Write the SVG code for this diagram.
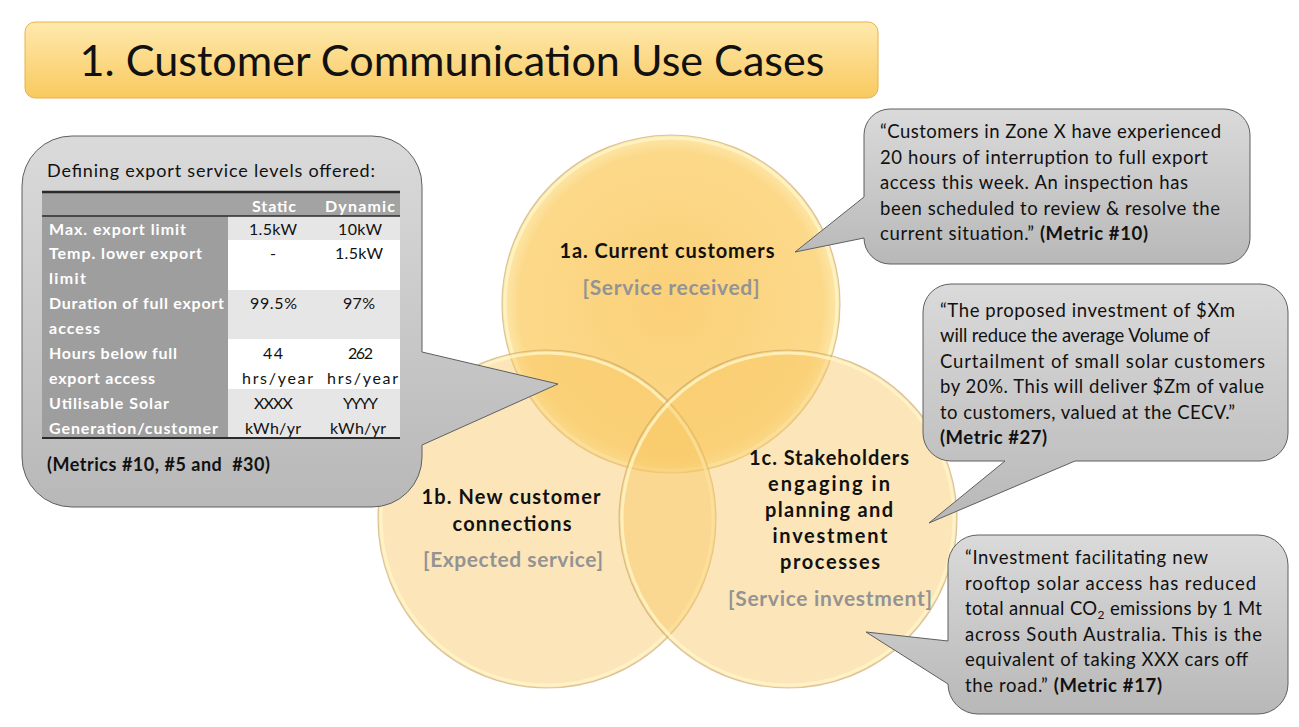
<svg xmlns="http://www.w3.org/2000/svg" width="1299" height="727" viewBox="0 0 1299 727">
<defs>
<linearGradient id="gTitle" x1="0" y1="0" x2="0" y2="1">
<stop offset="0" stop-color="#fee9ad"/><stop offset="1" stop-color="#f9c95f"/>
</linearGradient>
<linearGradient id="gCall" x1="0" y1="0" x2="0" y2="1">
<stop offset="0" stop-color="#dadada"/><stop offset="1" stop-color="#b8b8b8"/>
</linearGradient>
<radialGradient id="gA" cx="0.5" cy="0.5" r="0.5">
<stop offset="0" stop-color="#fbd078"/><stop offset="0.9" stop-color="#fcd98a"/><stop offset="1" stop-color="#fde8ac"/>
</radialGradient>
<style>
.t{font-family:Lato,"Open Sans",sans-serif;fill:#111}
.b{font-weight:bold}
.q{font-size:18.5px}
.tb{font-size:16px}
.th{font-size:16px;font-weight:bold;fill:#fff}
.lbl{font-size:20px;font-weight:bold;text-anchor:middle;fill:#111}
.sub{font-size:21px;font-weight:bold;text-anchor:middle;fill:#939393}
.call{fill:url(#gCall);stroke:#5f5f5f;stroke-width:1}
.rim{fill:none;stroke:#fff5c8;stroke-width:3;opacity:0.8}
.edge{fill:none;stroke:#c4a46a;stroke-width:1.2;opacity:0.6}
.c{text-anchor:middle}
</style>
</defs>
<rect width="1299" height="727" fill="#fff"/>

<g id="title">
<rect x="25" y="22" width="853" height="76" rx="10" fill="url(#gTitle)" stroke="#eab24a" stroke-width="1"/>
<text class="t" x="452" y="76" font-size="43" text-anchor="middle" textLength="745" lengthAdjust="spacingAndGlyphs">1. Customer Communication Use Cases</text>
</g>

<g id="venn">
<g id="circle-1a">
<circle cx="671" cy="304" r="169" fill="url(#gA)"/>
<circle cx="671" cy="304" r="166" class="rim"/>
<circle cx="671" cy="304" r="169" class="edge"/>
</g>
<g id="circle-1b">
<circle cx="547" cy="519" r="169" fill="#f8c864" fill-opacity="0.45"/>
<circle cx="547" cy="519" r="166" class="rim"/>
<circle cx="547" cy="519" r="169" class="edge"/>
</g>
<g id="circle-1c">
<circle cx="788" cy="519" r="169" fill="#f8c864" fill-opacity="0.45"/>
<circle cx="788" cy="519" r="166" class="rim"/>
<circle cx="788" cy="519" r="169" class="edge"/>
</g>
<g id="label-1a">
<text class="t lbl" x="667" y="258" textLength="215">1a. Current customers</text>
<text class="t sub" x="671" y="295" textLength="177">[Service received]</text>
</g>
<g id="label-1b">
<text class="t lbl" x="511" y="504" textLength="179">1b. New customer</text>
<text class="t lbl" x="512" y="531" textLength="119">connections</text>
<text class="t sub" x="513" y="567" textLength="180">[Expected service]</text>
</g>
<g id="label-1c">
<text class="t lbl" x="829" y="465" textLength="160">1c. Stakeholders</text>
<text class="t lbl" x="829" y="491" textLength="122">engaging in</text>
<text class="t lbl" x="829" y="517" textLength="128">planning and</text>
<text class="t lbl" x="830" y="543" textLength="115">investment</text>
<text class="t lbl" x="830" y="569" textLength="100">processes</text>
<text class="t sub" x="830" y="606" textLength="204">[Service investment]</text>
</g>
</g>

<g id="callout-table">
<path class="call" d="M72,136 H372 A50,50 0 0 1 422,186 V352 L558,384 L422,445 V457 A50,50 0 0 1 372,507 H72 A50,50 0 0 1 22,457 V186 A50,50 0 0 1 72,136 Z"/>
<text class="t" x="47" y="177" font-size="18" textLength="328">Defining export service levels offered:</text>
<rect x="42" y="192" width="358" height="24" fill="#a3a3a3"/>
<rect x="42" y="216" width="186" height="222" fill="#9e9e9e"/>
<rect x="228" y="216" width="172" height="24" fill="#e6e6e6"/>
<rect x="228" y="240" width="172" height="50" fill="#ffffff"/>
<rect x="228" y="290" width="172" height="49" fill="#e6e6e6"/>
<rect x="228" y="339" width="172" height="50" fill="#ffffff"/>
<rect x="228" y="389" width="172" height="49" fill="#e6e6e6"/>
<line x1="42" y1="192" x2="400" y2="192" stroke="#2a2a2a" stroke-width="2.5"/>
<line x1="42" y1="216" x2="400" y2="216" stroke="#2a2a2a" stroke-width="1.5"/>
<line x1="42" y1="438" x2="400" y2="438" stroke="#2a2a2a" stroke-width="2"/>
<text class="t th" x="252" y="212" textLength="44">Static</text>
<text class="t th" x="325" y="212" textLength="70">Dynamic</text>
<text class="t th" x="49" y="235" textLength="137">Max. export limit</text>
<text class="t th" x="49" y="259" textLength="153">Temp. lower export</text>
<text class="t th" x="49" y="284" textLength="37">limit</text>
<text class="t th" x="49" y="309" textLength="175">Duration of full export</text>
<text class="t th" x="49" y="334" textLength="51">access</text>
<text class="t th" x="49" y="359" textLength="128">Hours below full</text>
<text class="t th" x="49" y="384" textLength="106">export access</text>
<text class="t th" x="49" y="409" textLength="120">Utilisable Solar</text>
<text class="t th" x="49" y="434" textLength="169">Generation/customer</text>
<text class="t tb" x="249" y="235" textLength="48">1.5kW</text>
<text class="t tb" x="338" y="235" textLength="44">10kW</text>
<text class="t tb c" x="273" y="259">-</text>
<text class="t tb" x="335" y="259" textLength="48">1.5kW</text>
<text class="t tb" x="250" y="309" textLength="47">99.5%</text>
<text class="t tb" x="343" y="309" textLength="32">97%</text>
<text class="t tb" x="263" y="359" textLength="20">44</text>
<text class="t tb" x="348" y="359" textLength="25">262</text>
<text class="t tb" x="242" y="384" textLength="71">hrs/year</text>
<text class="t tb" x="327" y="384" textLength="71">hrs/year</text>
<text class="t tb" x="254" y="409" textLength="39">XXXX</text>
<text class="t tb" x="343" y="409" textLength="35">YYYY</text>
<text class="t tb" x="245" y="434" textLength="56">kWh/yr</text>
<text class="t tb" x="330" y="434" textLength="56">kWh/yr</text>
<text class="t b" x="47" y="471" font-size="18" textLength="223">(Metrics #10, #5 and&#160; #30)</text>
</g>

<g id="callout-metric10">
<path class="call" d="M890,109 H1224 A26,26 0 0 1 1250,135 V238 A26,26 0 0 1 1224,264 H890 A26,26 0 0 1 864,238 L795,252 L864,197 V135 A26,26 0 0 1 890,109 Z"/>
<text class="t q" x="880" y="138" textLength="341">“Customers in Zone X have experienced</text>
<text class="t q" x="880" y="164" textLength="328">20 hours of interruption to full export</text>
<text class="t q" x="880" y="189" textLength="308">access this week. An inspection has</text>
<text class="t q" x="880" y="215" textLength="340">been scheduled to review &amp; resolve the</text>
<text class="t q" x="880" y="240" textLength="268">current situation.” <tspan class="b">(Metric #10)</tspan></text>
</g>

<g id="callout-metric27">
<path class="call" d="M951,284 H1260 A28,28 0 0 1 1288,312 V433 A28,28 0 0 1 1260,461 H1075 L929,523 L1005,461 H951 A28,28 0 0 1 923,433 V312 A28,28 0 0 1 951,284 Z"/>
<text class="t q" x="940" y="317" textLength="295">“The proposed investment of $Xm</text>
<text class="t q" x="940" y="342" textLength="270">will reduce the average Volume of</text>
<text class="t q" x="940" y="368" textLength="325">Curtailment of small solar customers</text>
<text class="t q" x="940" y="393" textLength="324">by 20%. This will deliver $Zm of value</text>
<text class="t q" x="940" y="419" textLength="295">to customers, valued at the CECV.”</text>
<text class="t q b" x="940" y="444" textLength="107">(Metric #27)</text>
</g>

<g id="callout-metric17">
<path class="call" d="M978,535 H1258 A30,30 0 0 1 1288,565 V684 A30,30 0 0 1 1258,714 H978 A30,30 0 0 1 948,684 L866,632 L948,641 V565 A30,30 0 0 1 978,535 Z"/>
<text class="t q" x="965" y="564" textLength="243">“Investment facilitating new</text>
<text class="t q" x="965" y="590" textLength="291">rooftop solar access has reduced</text>
<text class="t q" x="965" y="615" textLength="297">total annual CO<tspan font-size="12" dy="4">2</tspan><tspan dy="-4"> emissions by 1 Mt</tspan></text>
<text class="t q" x="965" y="641" textLength="297">across South Australia. This is the</text>
<text class="t q" x="965" y="666" textLength="283">equivalent of taking XXX cars off</text>
<text class="t q" x="965" y="692" textLength="197">the road.” <tspan class="b">(Metric #17)</tspan></text>
</g>
</svg>
